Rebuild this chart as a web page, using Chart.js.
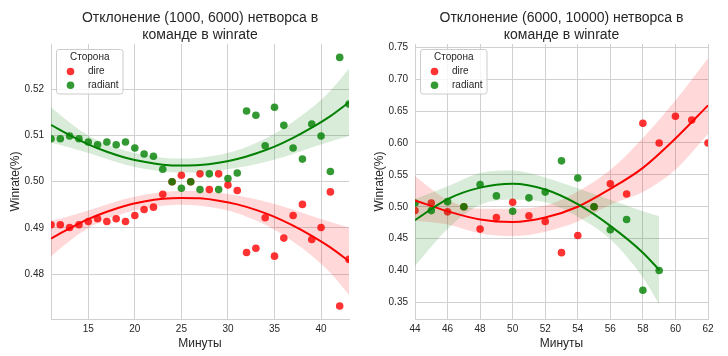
<!DOCTYPE html>
<html><head><meta charset="utf-8">
<script src="https://cdn.jsdelivr.net/npm/chart.js@4.4.1/dist/chart.umd.min.js"></script>
<style>
html,body{margin:0;padding:0;background:#fff;width:728px;height:356px;overflow:hidden}
.box{position:absolute;top:0;width:364px;height:356px}
</style></head><body>
<div class="box" style="left:0"><canvas id="c1" width="364" height="356"></canvas></div>
<div class="box" style="left:364px"><canvas id="c2" width="364" height="356"></canvas></div>
<script>
// ---------- Left chart: (1000, 6000) ----------
const titleL = ['Отклонение (1000, 6000) нетворса в', 'команде в winrate'];
const minutesL = [11,12,13,14,15,16,17,18,19,20,21,22,23,24,25,26,27,28,29,30,31,32,33,34,35,36,37,38,39,40,41,42,43];
const direL = [0.4907,0.4907,0.4901,0.4907,0.4914,0.4920,0.4914,0.4920,0.4914,0.4927,0.4940,0.4945,0.4973,0.5000,0.5014,0.5000,0.5017,0.4983,0.5017,0.4993,0.4981,0.4847,0.4856,0.4922,0.4839,0.4878,0.4927,0.4951,0.4875,0.4901,0.4978,0.4731,0.4832];
const radiantL = [0.5093,0.5093,0.5099,0.5093,0.5086,0.5080,0.5086,0.5080,0.5086,0.5073,0.5060,0.5055,0.5027,0.5000,0.4986,0.5000,0.4983,0.5017,0.4983,0.5007,0.5019,0.5153,0.5144,0.5078,0.5161,0.5122,0.5073,0.5049,0.5125,0.5099,0.5022,0.5269,0.5168];
const fitMinutesL = [11,13,15,17,19,21,23,25,27,29,31,33,35,37,39,41,43];
const direFitL = [0.4877,0.4899,0.4919,0.4935,0.4948,0.4957,0.4963,0.4965,0.4964,0.4959,0.4951,0.4939,0.4924,0.4905,0.4883,0.4858,0.4828];
const direUpL  = [0.4915,0.4926,0.4938,0.4951,0.4963,0.4972,0.4978,0.4980,0.4980,0.4976,0.4970,0.4962,0.4952,0.4940,0.4926,0.4913,0.4901];
const direLoL  = [0.4839,0.4872,0.4900,0.4919,0.4933,0.4942,0.4948,0.4950,0.4948,0.4942,0.4932,0.4916,0.4896,0.4870,0.4840,0.4803,0.4755];
const radFitL  = [0.5123,0.5101,0.5081,0.5065,0.5052,0.5043,0.5037,0.5035,0.5036,0.5041,0.5049,0.5061,0.5076,0.5095,0.5117,0.5142,0.5172];
const radUpL   = [0.5161,0.5128,0.5100,0.5081,0.5067,0.5058,0.5052,0.5050,0.5052,0.5058,0.5068,0.5084,0.5104,0.5130,0.5160,0.5197,0.5245];
const radLoL   = [0.5085,0.5074,0.5062,0.5049,0.5037,0.5028,0.5022,0.5020,0.5020,0.5024,0.5030,0.5038,0.5048,0.5060,0.5074,0.5087,0.5099];
const xTicksL = [15,20,25,30,35,40];
const yTicksL = [0.48,0.49,0.50,0.51,0.52];

// ---------- Right chart: (6000, 10000) ----------
const titleR = ['Отклонение (6000, 10000) нетворса в', 'команде в winrate'];
const minutesDireR = [44,45,46,47,48,49,50,51,52,53,54,55,56,57,58,59,60,61,62];
const direR = [0.494,0.506,0.492,0.500,0.465,0.483,0.507,0.486,0.477,0.428,0.455,0.500,0.536,0.520,0.631,0.600,0.642,0.636,0.600];
const minutesRadR = [44,45,46,47,48,49,50,51,52,53,54,55,56,57,58,59];
const radiantR = [0.506,0.494,0.508,0.500,0.535,0.517,0.493,0.514,0.523,0.572,0.545,0.500,0.464,0.480,0.369,0.400];
const fitMinutesDireR = [44,46,48,50,52,54,56,58,60,62];
const direFitR = [0.510,0.493,0.480,0.476,0.483,0.500,0.528,0.561,0.607,0.659];
const direUpR  = [0.548,0.511,0.497,0.497,0.502,0.524,0.558,0.608,0.667,0.733];
const direLoR  = [0.478,0.472,0.458,0.454,0.461,0.477,0.503,0.523,0.558,0.614];
const fitMinutesRadR = [44,46,48,50,52,54,56,58,59];
const radFitR = [0.479,0.512,0.530,0.536,0.527,0.504,0.470,0.428,0.401];
const radUpR  = [0.512,0.532,0.553,0.557,0.546,0.529,0.511,0.493,0.485];
const radLoR  = [0.407,0.465,0.503,0.511,0.507,0.484,0.449,0.389,0.347];
const xTicksR = [44,46,48,50,52,54,56,58,60,62];
const yTicksR = [0.35,0.40,0.45,0.50,0.55,0.60,0.65,0.70,0.75];

const seriesNames = ['dire', 'radiant'];
const legendTitle = 'Сторона';
const xLabel = 'Минуты';
const yLabel = 'Winrate(%)';

// ---------- styling ----------
const RED_PT = 'rgba(255,0,0,0.8)', GRN_PT = 'rgba(0,128,0,0.8)';
const RED_LN = '#ff0000', GRN_LN = '#008000';
const RED_BAND = 'rgba(255,0,0,0.15)', GRN_BAND = 'rgba(0,128,0,0.15)';
const TXT = '#262626', GRID = '#d0d0d0';
const FONT = '"Liberation Sans", Arial, sans-serif';

const pts = (xs, ys) => xs.map((x, i) => ({x, y: ys[i]}));

function datasets(d) {
  const band = (data, color, fill, order) => ({data, borderWidth: 0, pointRadius: 0, showLine: true,
    backgroundColor: color, borderColor: 'rgba(0,0,0,0)', fill, order, tension: 0.4, cubicInterpolationMode: 'monotone', clip: 0});
  const line = (data, color, order) => ({data, borderWidth: 2, pointRadius: 0, showLine: true,
    borderColor: color, fill: false, order, cubicInterpolationMode: 'monotone', clip: 0});
  const scat = (data, color, order) => ({data, pointRadius: 3.8, pointHoverRadius: 3.8, borderWidth: 0,
    backgroundColor: color, pointBackgroundColor: color, pointBorderWidth: 0, showLine: false, order, clip: 0});
  return [
    band(pts(d.fxD, d.dUp), RED_BAND, '+1', 5),
    band(pts(d.fxD, d.dLo), 'rgba(0,0,0,0)', false, 5),
    band(pts(d.fxR, d.rUp), GRN_BAND, '+1', 3),
    band(pts(d.fxR, d.rLo), 'rgba(0,0,0,0)', false, 3),
    line(pts(d.fxD, d.dFit), RED_LN, 2),
    line(pts(d.fxR, d.rFit), GRN_LN, 1),
    scat(pts(d.xD, d.dire), RED_PT, 6),
    scat(pts(d.xR, d.rad), GRN_PT, 4),
  ];
}

function overlay(title) {
  return {
    id: 'overlay',
    afterDraw(chart) {
      const {ctx, chartArea: a} = chart;
      ctx.save();
      ctx.fillStyle = TXT;
      ctx.textAlign = 'center';
      ctx.textBaseline = 'middle';
      ctx.font = '14px ' + FONT;
      const cx = (a.left + a.right) / 2;
      ctx.fillText(title[0], cx, 18);
      ctx.fillText(title[1], cx, 35);
      // legend box
      const lx = a.left + 5.5, ly = a.top + 5.5, lw = 66.5, lh = 44.5, r = 2.5;
      ctx.beginPath();
      ctx.moveTo(lx + r, ly);
      ctx.lineTo(lx + lw - r, ly); ctx.arcTo(lx + lw, ly, lx + lw, ly + r, r);
      ctx.lineTo(lx + lw, ly + lh - r); ctx.arcTo(lx + lw, ly + lh, lx + lw - r, ly + lh, r);
      ctx.lineTo(lx + r, ly + lh); ctx.arcTo(lx, ly + lh, lx, ly + lh - r, r);
      ctx.lineTo(lx, ly + r); ctx.arcTo(lx, ly, lx + r, ly, r);
      ctx.closePath();
      ctx.fillStyle = 'rgba(255,255,255,0.8)';
      ctx.fill();
      ctx.strokeStyle = '#cccccc';
      ctx.lineWidth = 1;
      ctx.stroke();
      ctx.fillStyle = TXT;
      ctx.font = '10px ' + FONT;
      ctx.textAlign = 'center';
      ctx.fillText(legendTitle, lx + lw / 2, ly + 8);
      const cols = [RED_PT, GRN_PT];
      seriesNames.forEach((n, i) => {
        const yy = ly + 22 + i * 13.7;
        ctx.beginPath();
        ctx.arc(lx + 14, yy, 3.8, 0, Math.PI * 2);
        ctx.fillStyle = cols[i];
        ctx.fill();
        ctx.fillStyle = TXT;
        ctx.textAlign = 'left';
        ctx.fillText(n, lx + 31.5, yy);
      });
      ctx.restore();
    }
  };
}

function makeChart(id, d) {
  const tickFont = {family: FONT, size: 10};
  const titleFont = {family: FONT, size: 12};
  return new Chart(document.getElementById(id), {
    type: 'scatter',
    data: {datasets: datasets(d)},
    options: {
      responsive: false, animation: false, devicePixelRatio: 1,
      layout: {padding: {left: 0, right: d.padRight, top: 44, bottom: 0}},
      plugins: {legend: {display: false}, tooltip: {enabled: false}, title: {display: false}},
      scales: {
        x: {
          type: 'linear', position: 'bottom', min: d.xMin, max: d.xMax,
          afterBuildTicks: s => { s.ticks = d.xTicks.map(v => ({value: v})); },
          afterFit: s => { s.height = 37; },
          grid: {color: GRID, drawTicks: false, lineWidth: 1},
          border: {color: GRID, width: 1},
          ticks: {color: TXT, font: tickFont, padding: 4, autoSkip: false, maxRotation: 0, callback: v => String(v)},
          title: {display: true, text: xLabel, color: TXT, font: titleFont, padding: {top: 0, bottom: 5}}
        },
        y: {
          type: 'linear', position: 'left', min: d.yMin, max: d.yMax,
          afterBuildTicks: s => { s.ticks = d.yTicks.map(v => ({value: v})); },
          afterFit: s => { s.width = 51; },
          grid: {color: GRID, drawTicks: false, lineWidth: 1},
          border: {color: GRID, width: 1},
          ticks: {color: TXT, font: tickFont, padding: 7, autoSkip: false, callback: v => v.toFixed(2)},
          title: {display: true, text: yLabel, color: TXT, font: titleFont, padding: {top: 8, bottom: 0}}
        }
      }
    },
    plugins: [overlay(d.title)]
  });
}

makeChart('c1', {
  title: titleL, xMin: 11, xMax: 43, yMin: 0.4703, yMax: 0.5298, xTicks: xTicksL, yTicks: yTicksL, padRight: 15,
  xD: minutesL, dire: direL, xR: minutesL, rad: radiantL,
  fxD: fitMinutesL, dFit: direFitL, dUp: direUpL, dLo: direLoL,
  fxR: fitMinutesL, rFit: radFitL, rUp: radUpL, rLo: radLoL
});
makeChart('c2', {
  title: titleR, xMin: 44, xMax: 62, yMin: 0.324, yMax: 0.7552, xTicks: xTicksR, yTicks: yTicksR, padRight: 20,
  xD: minutesDireR, dire: direR, xR: minutesRadR, rad: radiantR,
  fxD: fitMinutesDireR, dFit: direFitR, dUp: direUpR, dLo: direLoR,
  fxR: fitMinutesRadR, rFit: radFitR, rUp: radUpR, rLo: radLoR
});
</script>
</body></html>
